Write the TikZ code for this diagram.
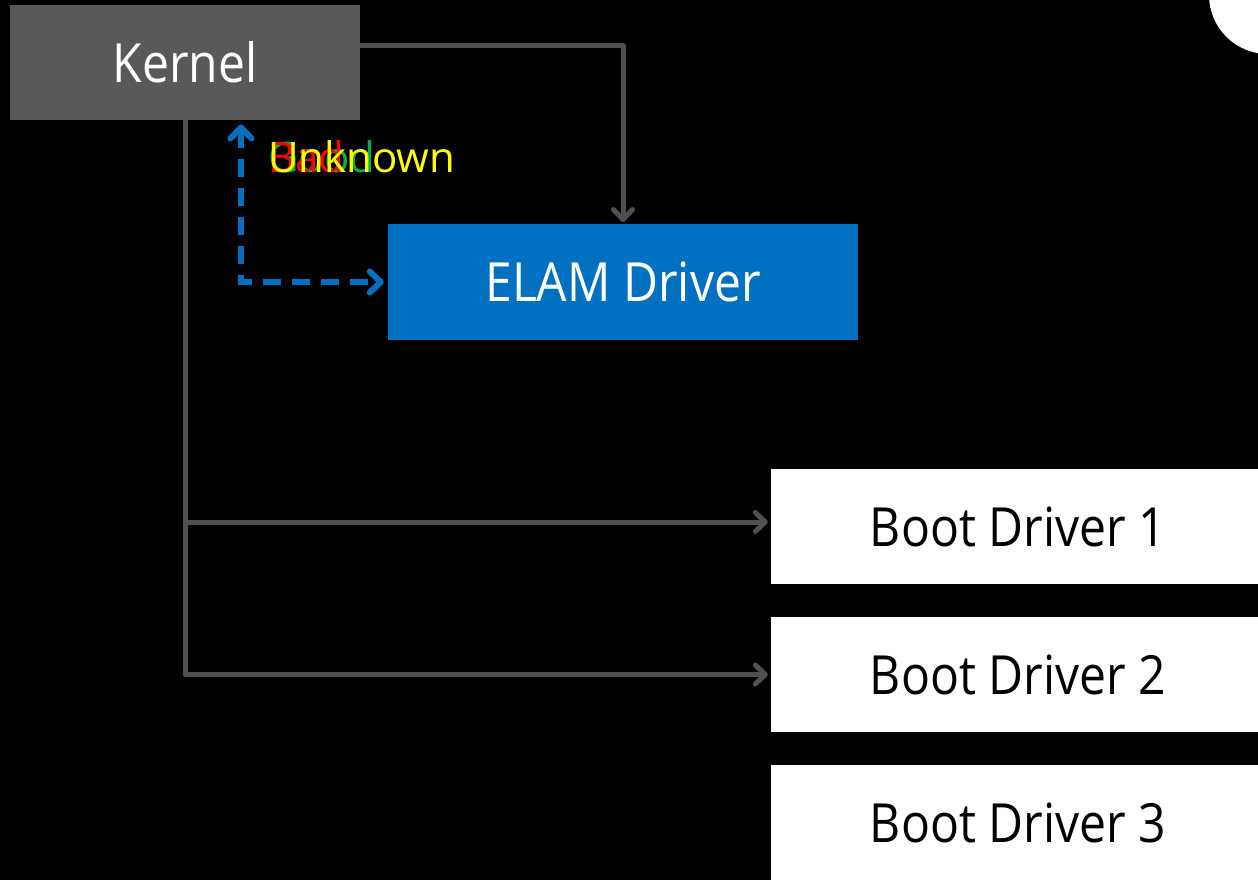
\documentclass[tikz,border=0pt]{standalone}
\usepackage{fontspec}
\setmainfont{Open Sans}
\newfontfamily\boxfont{Open Sans}[FakeStretch=0.89]
\usetikzlibrary{arrows.meta}
\definecolor{kernelgray}{HTML}{595959}
\definecolor{linegray}{HTML}{505050}
\definecolor{elamblue}{HTML}{0070C0}
\definecolor{goodgreen}{HTML}{00B050}
\definecolor{badred}{HTML}{FF0000}
\definecolor{unkyellow}{HTML}{FFFF00}
\tikzset{
  box/.style={draw=none, inner sep=0pt, minimum height=115.5pt, font=\boxfont\fontsize{54}{64}\selectfont},
  conn/.style={draw=linegray, line width=5pt, line join=round,
    -{Straight Barb[length=10pt, width=19pt, line width=5pt, line cap=round, line join=round]}},
  verdict/.style={line width=6pt, dash pattern=on 18pt off 11pt, color=elamblue,
    {Straight Barb[length=11pt, width=21pt, line width=6pt, line cap=round, line join=round]}-{Straight Barb[length=11pt, width=21pt, line width=6pt, line cap=round, line join=round]}},
  label/.style={anchor=base west, inner sep=0pt, font=\fontsize{42}{50}\selectfont}
}
\begin{document}
\begin{tikzpicture}[x=1pt,y=-1pt]
  % canvas
  \fill[black] (0,0) rectangle (1258,880);
  \useasboundingbox (0,0) rectangle (1258,880);
  \clip (0,0) rectangle (1258,880);
  \fill[white] (1268,-5) circle (59pt);

  % boxes
  \node[box, fill=kernelgray, text=white, minimum width=350pt] (kernel) at (185,62.5) {Kernel};
  \node[box, fill=elamblue, text=white, minimum width=470pt] (elam) at (623,282) {ELAM Driver};
  \node[box, fill=white, text=black, minimum width=494pt] (bd1) at (1018,526.5) {Boot Driver 1};
  \node[box, fill=white, text=black, minimum width=494pt] (bd2) at (1018,674.5) {Boot Driver 2};
  \node[box, fill=white, text=black, minimum width=494pt] (bd3) at (1018,823) {Boot Driver 3};

  % load order connectors
  \draw[conn] ([yshift=16.5pt]kernel.east) -| ([yshift=2pt]elam.north);
  \coordinate (split) at (kernel.south |- 0,522);
  \draw[conn] (kernel.south) -- (split) -- ([yshift=4.5pt,xshift=-3pt]bd1.west);
  \draw[conn] (split) |- ([xshift=-3pt]bd2.west);

  % ELAM verdict path
  \draw[verdict] ([xshift=56pt,yshift=-4pt]kernel.south) |- ([xshift=-4pt]elam.west);

  % overlapping verdict labels
  \node[label, text=goodgreen] (good) at (268,172) {Good};
  \node[label, text=badred] (bad) at (268,172) {Bad};
  \node[label, text=unkyellow] (unknown) at (268,172) {Unknown};
\end{tikzpicture}
\end{document}
